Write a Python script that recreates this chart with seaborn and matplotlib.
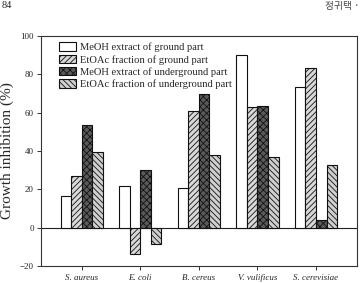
import numpy as np
import pandas as pd
import matplotlib
matplotlib.use("Agg")
import matplotlib.pyplot as plt
import seaborn as sns

# ============================
# Data
# ============================
organisms = ["S. aureus", "E. coli", "B. cereus", "V. vulificus", "S. cerevisiae"]
series_names = [
    "MeOH extract of ground part",
    "EtOAc fraction of ground part",
    "MeOH extract of underground part",
    "EtOAc fraction of underground part",
]
meoh_ground = [16.3, 21.9, 20.7, 90.1, 73.3]
etoac_ground = [26.7, -13.5, 61.0, 62.7, 83.3]
meoh_under = [53.3, 30.0, 69.6, 63.5, 4.0]
etoac_under = [39.4, -8.5, 37.7, 37.1, 32.8]

y_ticks = [-20, 0, 20, 40, 60, 80, 100]

df = pd.DataFrame({
    "organism": organisms * 4,
    "series": np.repeat(series_names, len(organisms)),
    "value": meoh_ground + etoac_ground + meoh_under + etoac_under,
})

# ============================
# Style
# ============================
sns.set_style("ticks")
plt.rcParams["font.family"] = ["Liberation Serif", "DejaVu Serif"]
plt.rcParams["hatch.linewidth"] = 0.6
plt.rcParams["axes.linewidth"] = 0.8

faces = ["white", "#d8d8d8", "#5a5a5a", "#cfcfcf"]
hatches = [None, "//////", "xxxxx", "\\\\\\\\\\\\"]

fig = plt.figure(figsize=(3.61, 2.83), dpi=100)
ax = fig.add_axes([0.1127, 0.060, 0.8763, 0.813])

sns.barplot(data=df, x="organism", y="value", hue="series",
            order=organisms, hue_order=series_names,
            width=0.72, gap=0, edgecolor="#111111", linewidth=0.8,
            palette=["white"] * 4, errorbar=None, ax=ax)

for cont, fc, h in zip(ax.containers, faces, hatches):
    for bar in cont:
        bar.set_facecolor(fc)
        bar.set_hatch(h)
        bar.set_edgecolor("#111111")

ax.axhline(0, color="#222222", lw=0.8, zorder=0.5)
ax.set_xlim(-0.7, 4.7)
ax.set_ylim(-20, 100)
ax.set_yticks(y_ticks)
ax.tick_params(axis="both", labelsize=6.5, length=3, width=0.7, pad=2,
               color="#333333")
for lbl in ax.get_xticklabels():
    lbl.set_fontstyle("italic")
ax.tick_params(axis="x", pad=3)
ax.set_xlabel("")
ax.set_ylabel("Growth inhibition (%)", fontsize=11)
ax.yaxis.set_label_coords(-0.085, 0.5)
for sp in ax.spines.values():
    sp.set_visible(True)
    sp.set_color("#333333")

# legend built from the bars themselves
handles = [cont[0] for cont in ax.containers]
ax.legend(handles, series_names, loc="upper left",
          bbox_to_anchor=(0.045, 0.99), frameon=False, fontsize=7.6,
          handlelength=1.6, handleheight=0.8, handletextpad=0.4,
          labelspacing=0.25, borderaxespad=0)

# page header
fig.text(0.005, 0.995, "84", ha="left", va="top", fontsize=7.5)
fig.text(0.995, 0.995, "정귀택 ·", ha="right", va="top", fontsize=7,
         family=["Noto Sans CJK KR", "DejaVu Sans"], color="#444444")

fig.savefig("out.png", dpi=100)
plt.close(fig)
